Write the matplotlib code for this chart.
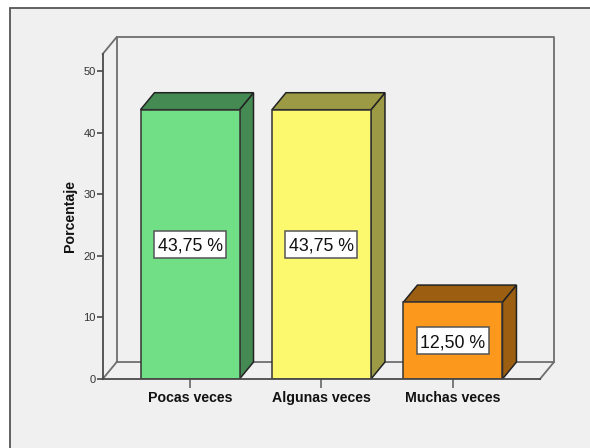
import matplotlib
matplotlib.use('Agg')
import matplotlib.pyplot as plt
from matplotlib.patches import Polygon, Rectangle

plt.rcParams['font.family'] = ['Liberation Sans', 'DejaVu Sans']

categories = ['Pocas veces', 'Algunas veces', 'Muchas veces']
values = [43.75, 43.75, 12.50]
labels = ['43,75 %', '43,75 %', '12,50 %']
y_ticks = [0, 10, 20, 30, 40, 50]
front_colors = ['#70DF86', '#FCF96F', '#FC991C']
side_colors = ['#458A53', '#9C9A45', '#9C5F11']

W, H = 590, 448
bg = '#F0F0F0'
line = '#4A4A4A'

fig = plt.figure(figsize=(W / 100, H / 100), dpi=100, facecolor='white')
# grey panel with the dark border, runs off the right and bottom edges
fig.patches.append(Rectangle((9.5 / W, -0.1), 1.1, 1.1 - 8.5 / H, transform=fig.transFigure,
                             facecolor=bg, edgecolor='#555555', linewidth=1.3, zorder=-1))

ax = fig.add_axes([102.7 / W, 69 / H, (540 - 102.7) / W, (379 - 54) / H])
ax.patch.set_visible(False)
ax.set_xlim(-0.664, 2.662)
ax.set_ylim(0, 52.8)

bar_w = 0.753
dx = 14 / 131.5    # depth of the 3d box in x units
dy = 17 / 6.16     # and in y units
box_w = 72 / 131.5  # white label box
box_h = 27 / 6.16
xmin, xmax = ax.get_xlim()
ymax = ax.get_ylim()[1]

# back wall and floor
wall = '#6E6E6E'
ax.plot([xmin + dx, xmin + dx, xmax + dx, xmax + dx], [dy, ymax + dy, ymax + dy, dy],
        color=wall, lw=1.3, clip_on=False, zorder=1)
ax.plot([xmin, xmin + dx], [ymax, ymax + dy], color=wall, lw=1.3, clip_on=False, zorder=1)
ax.plot([xmin + dx, xmax + dx, xmax], [dy, dy, 0], color=wall, lw=1.3, clip_on=False, zorder=1)
ax.plot([xmin, xmin + dx], [0, dy], color=wall, lw=1.3, clip_on=False, zorder=1)

for i, v in enumerate(values):
    l, r = i - bar_w / 2, i + bar_w / 2
    ax.add_patch(Polygon([(r, 0), (r + dx, dy), (r + dx, v + dy), (r, v)], closed=True,
                         facecolor=side_colors[i], edgecolor='#222222', lw=1.1,
                         clip_on=False, zorder=3))
    ax.add_patch(Polygon([(l, v), (l + dx, v + dy), (r + dx, v + dy), (r, v)], closed=True,
                         facecolor=side_colors[i], edgecolor='#222222', lw=1.1,
                         clip_on=False, zorder=3))
ax.bar(range(3), values, width=bar_w, color=front_colors, edgecolor='#333333', linewidth=1.1, zorder=4)

for i, v in enumerate(values):
    ax.add_patch(Rectangle((i - box_w / 2, v / 2 - box_h / 2), box_w, box_h, facecolor='white',
                           edgecolor='#555555', linewidth=1.1, zorder=5))
    ax.text(i, v / 2, labels[i], ha='center', va='center_baseline', fontsize=12.8,
            color='#111111', zorder=6)

for s in ['top', 'right']:
    ax.spines[s].set_visible(False)
for s in ['left', 'bottom']:
    ax.spines[s].set_color(line)
    ax.spines[s].set_linewidth(1.3)
    ax.spines[s].set_zorder(5)

ax.set_yticks(y_ticks)
ax.tick_params(axis='y', length=4.5, width=1.2, color=line, labelsize=8, labelcolor='#333333', pad=0.5)
ax.set_xticks(range(3))
ax.set_xticklabels(categories, fontweight='bold', fontsize=10.2, color='#111111')
ax.tick_params(axis='x', length=6.5, width=1.2, color='#666666', pad=2)

ax.set_ylabel('Porcentaje', fontweight='bold', fontsize=10.2, color='#111111')
ax.yaxis.set_label_coords(-0.058, 0.5)

plt.savefig('out.png', dpi=100)
plt.close()
